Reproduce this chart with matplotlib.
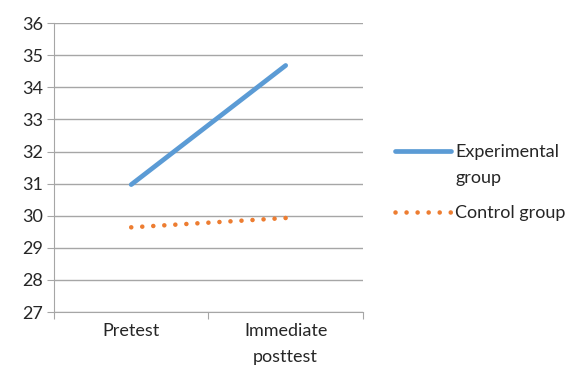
import matplotlib
matplotlib.use("Agg")
import matplotlib.pyplot as plt
from matplotlib.lines import Line2D

plt.rcParams["font.family"] = ["Lato", "DejaVu Sans"]
plt.rcParams["text.color"] = "#262626"

categories = ["Pretest", "Immediate\nposttest"]
experimental = [30.97, 34.68]
control = [29.64, 29.93]
y_ticks = list(range(27, 37))

BLUE = "#5B9BD5"
ORANGE = "#ED7D31"
GRID = "#A6A6A6"
FS = 13
DOTS = (0, (0.01, 2.4))

fig = plt.figure(figsize=(5.7, 3.72), dpi=100)
ax = fig.add_axes([0.0947, 0.161, 0.542, 0.777])

x = [0.5, 1.5]
ax.plot(x, experimental, color=BLUE, linewidth=3.4, solid_capstyle="round")
ax.plot(x, control, color=ORANGE, linewidth=3.3, linestyle=DOTS,
        dash_capstyle="round")

ax.set_xlim(0, 2)
ax.set_ylim(27, 36)
ax.set_yticks(y_ticks)
ax.set_xticks([0, 1, 2])
ax.set_xticklabels([])
ax.set_xticks(x, minor=True)
ax.set_xticklabels(categories, minor=True, fontsize=FS, linespacing=1.75,
                   color="#262626")
ax.tick_params(axis="x", which="minor", length=0, pad=8)
ax.tick_params(axis="x", which="major", length=5, color=GRID)
ax.tick_params(axis="y", length=5, color=GRID, labelsize=FS, pad=3,
               labelcolor="#262626")
ax.grid(axis="y", color=GRID, linewidth=1)
ax.set_axisbelow(True)
for s in ["top", "right"]:
    ax.spines[s].set_visible(False)
for s in ["left", "bottom"]:
    ax.spines[s].set_color(GRID)

handles = [
    Line2D([], [], color=BLUE, linewidth=3.4, solid_capstyle="round"),
    Line2D([], [], color=ORANGE, linewidth=3.3, linestyle=DOTS,
           dash_capstyle="round"),
]
leg = fig.legend(handles, ["Experimental", "Control group"], loc="upper left",
                 bbox_to_anchor=(0.664, 0.657), frameon=False, fontsize=FS,
                 handlelength=3.1, handletextpad=0.25, labelspacing=2.5)
fig.canvas.draw()
bb = leg.get_texts()[0].get_window_extent()
fig.text(bb.x0 / fig.bbox.width, (bb.y0 - 10) / fig.bbox.height, "group",
         fontsize=FS, va="top", ha="left")

fig.savefig("out.png", dpi=100)
